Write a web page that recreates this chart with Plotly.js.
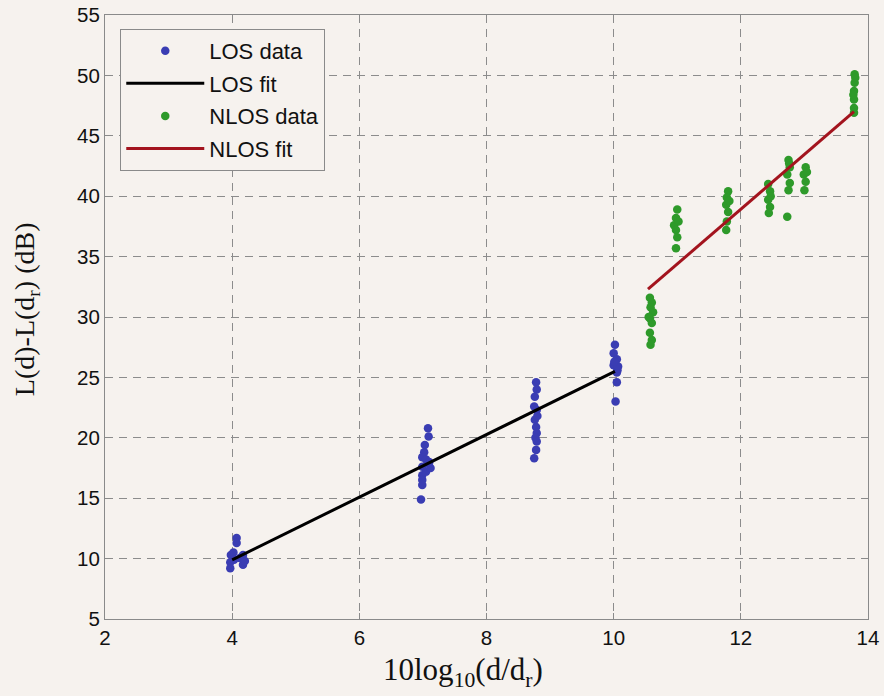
<!DOCTYPE html>
<html>
<head>
<meta charset="utf-8">
<script src="https://cdn.plot.ly/plotly-3.0.1.min.js"></script>
<style>html,body{margin:0;padding:0;background:#f6f2ee;}#chart{width:884px;height:696px;}</style>
</head>
<body>
<div id="chart"></div>
<script>
// LOS measured data
var losX = [4.07,4.07,4.02,3.98,4.17,3.97,3.97,4.17,4.12,4.03,4.20,
            7.08,7.09,7.03,7.02,6.99,7.05,7.09,6.99,7.05,6.99,6.99,6.99,6.97,7.12,7.10,
            8.78,8.79,8.76,8.75,8.79,8.76,8.78,8.79,8.79,8.78,8.75,8.80,8.77,
            10.02,10.00,10.05,10.00,10.06,10.05,10.05,10.03,10.07,10.01];
var losY = [11.7,11.3,10.5,10.3,10.3,9.7,9.2,9.5,10.05,9.9,9.8,
            20.8,20.1,19.4,18.8,18.4,18.2,17.9,17.6,17.2,16.9,16.5,16.1,14.9,17.5,18.0,
            24.6,24.0,23.4,22.6,22.3,21.5,20.9,20.4,19.7,19.0,18.3,21.8,20.0,
            27.7,27.0,26.5,26.0,25.6,25.4,24.6,23.0,25.9,26.3];
// LOS fit line end points
var losFitX = [4.0, 10.02];
var losFitY = [9.9, 25.5];
// NLOS measured data
var nlosX = [10.57,10.60,10.58,10.62,10.57,10.60,10.57,10.60,10.58,10.55,
             11.00,10.98,10.95,10.98,11.00,10.98,11.02,
             11.80,11.78,11.77,11.80,11.78,11.77,11.82,
             12.43,12.46,12.43,12.46,12.44,12.47,
             12.75,12.77,12.73,12.77,12.75,12.73,12.76,
             13.02,12.99,13.02,13.00,13.04,
             13.79,13.79,13.78,13.78,13.78,13.78,13.80,13.77];
var nlosY = [31.6,31.2,30.8,30.4,29.9,29.5,28.7,28.1,27.7,30.0,
             38.9,38.2,37.6,37.2,36.6,35.7,37.9,
             40.4,39.9,39.3,38.7,37.9,37.2,39.6,
             41.0,40.4,39.7,39.1,38.6,40.0,
             43.0,42.4,41.8,41.1,40.5,38.3,42.7,
             42.4,41.8,41.2,40.5,42.0,
             50.1,49.4,48.7,48.0,47.3,46.9,49.8,48.4];
// NLOS fit line end points
var nlosFitX = [10.54, 13.78];
var nlosFitY = [32.3, 47.0];

var xTickVals = [2,4,6,8,10,12,14];
var yTickVals = [5,10,15,20,25,30,35,40,45,50,55];
var xTitle = '10log<sub>10</sub>(d/d<sub>r</sub>)';
var yTitle = 'L(d)-L(d<sub>r</sub>) (dB)';

var traces = [
  {x: losX, y: losY, mode: 'markers', type: 'scatter', name: 'LOS data', legendgroup: 'a',
   marker: {color: '#3a3db3', size: 8.5}},
  {x: losFitX, y: losFitY, mode: 'lines', type: 'scatter', name: 'LOS fit', legendgroup: 'b',
   line: {color: '#000000', width: 3}},
  {x: nlosX, y: nlosY, mode: 'markers', type: 'scatter', name: 'NLOS data', legendgroup: 'c',
   marker: {color: '#2e9a2a', size: 8.5}},
  {x: nlosFitX, y: nlosFitY, mode: 'lines', type: 'scatter', name: 'NLOS fit', legendgroup: 'd',
   line: {color: '#a3141e', width: 3}}
];

var axisCommon = {
  showline: true, linecolor: '#8a8a8a', linewidth: 1, mirror: 'ticks',
  ticks: 'inside', ticklen: 6, tickcolor: '#8a8a8a',
  showgrid: true, gridcolor: '#8c8c8c', griddash: '8px,6px', gridwidth: 1,
  zeroline: false,
  tickfont: {family: 'Liberation Sans, Arial, sans-serif', size: 20.5, color: '#111'}
};

var serif = {family: 'Liberation Serif, Times New Roman, serif', color: '#111'};

var layout = {
  width: 884, height: 696,
  paper_bgcolor: '#f6f2ee', plot_bgcolor: '#f6f2ee',
  margin: {l: 105, r: 16, t: 15, b: 77},
  showlegend: true,
  legend: {
    x: 0.02, y: 0.977, xanchor: 'left', yanchor: 'top',
    bgcolor: '#f6f2ee', bordercolor: '#8a8a8a', borderwidth: 1,
    font: {family: 'Liberation Sans, Arial, sans-serif', size: 22, color: '#111'},
    tracegroupgap: 1, traceorder: 'grouped', itemwidth: 78
  },
  xaxis: Object.assign({}, axisCommon, {range: [2, 14], tickvals: xTickVals}),
  yaxis: Object.assign({}, axisCommon, {range: [5, 55], tickvals: yTickVals}),
  annotations: [
    {text: xTitle, xref: 'paper', yref: 'paper', x: 0.469, y: -0.088,
     xanchor: 'center', yanchor: 'middle', showarrow: false,
     font: Object.assign({size: 31}, serif)},
    {text: yTitle, xref: 'paper', yref: 'paper', x: -0.1035, y: 0.513,
     xanchor: 'center', yanchor: 'middle', showarrow: false, textangle: -90,
     font: Object.assign({size: 28}, serif)}
  ]
};

Plotly.newPlot('chart', traces, layout, {displayModeBar: false});
</script>
</body>
</html>
